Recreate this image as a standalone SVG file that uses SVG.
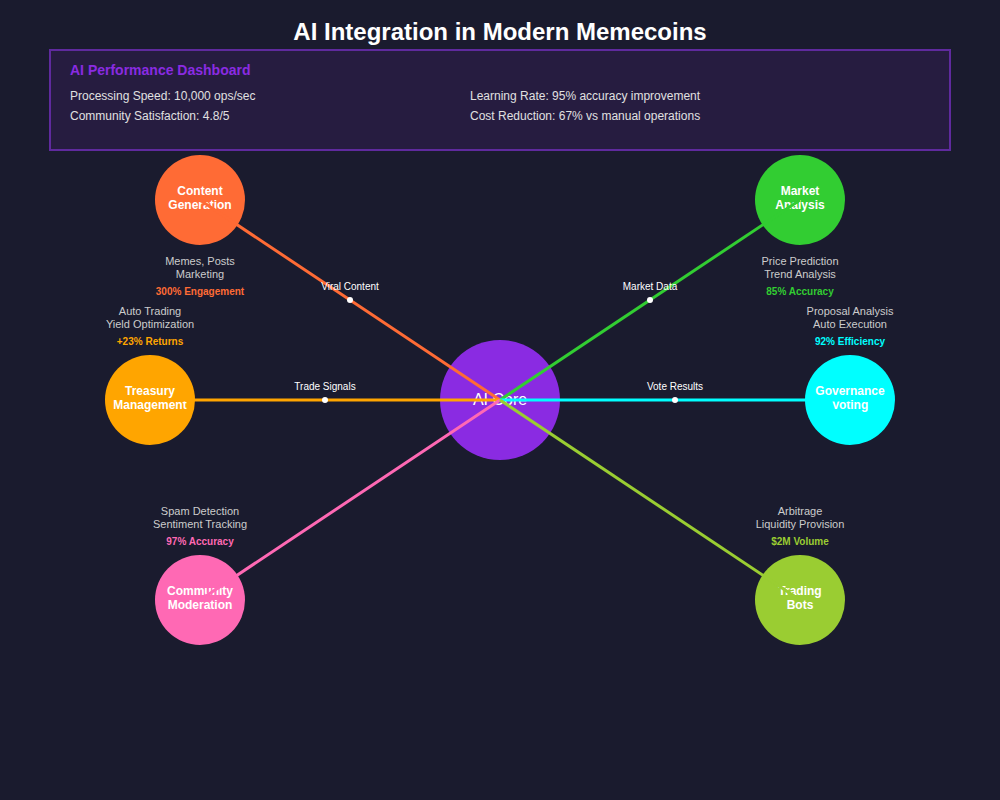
<svg xmlns="http://www.w3.org/2000/svg" width="1000" height="800" viewBox="0 0 1000 800">
<style>
text{font-family:"Liberation Sans",Arial,sans-serif}
.title{font-size:24px;font-weight:bold;fill:#ffffff;text-anchor:middle}
.dash-title{font-size:14px;font-weight:bold;fill:#8a2be2}
.stat{font-size:12px;fill:#e0e0e0}
.lbl{font-size:12px;font-weight:bold;fill:#ffffff;text-anchor:middle}
.core{font-size:16px;fill:#ffffff;text-anchor:middle}
.desc{font-size:11px;fill:#cccccc;text-anchor:middle}
.metric{font-size:10px;font-weight:bold;text-anchor:middle}
.clbl{font-size:10px;fill:#ffffff;text-anchor:middle}
.conn{stroke-width:3;fill:none}
.dot{fill:#ffffff}
</style>
<rect width="1000" height="800" fill="#1a1b2e"/>
<text class="title" x="500" y="40">AI Integration in Modern Memecoins</text>
<g id="dashboard">
<rect x="50" y="50" width="900" height="100" fill="#261c40" stroke="#5f2a9e" stroke-width="2"/>
<text class="dash-title" x="70" y="75">AI Performance Dashboard</text>
<text class="stat" x="70" y="100">Processing Speed: 10,000 ops/sec</text>
<text class="stat" x="70" y="120">Community Satisfaction: 4.8/5</text>
<text class="stat" x="470" y="100">Learning Rate: 95% accuracy improvement</text>
<text class="stat" x="470" y="120">Cost Reduction: 67% vs manual operations</text>
</g>
<g id="ai-core">
<circle cx="500" cy="400" r="60" fill="#8a2be2"/>
<text class="core" x="500" y="405">AI Core</text>
</g>
<g id="content-generation">
<circle cx="200" cy="200" r="45" fill="#ff6b35"/>
<text class="lbl" x="200" y="195">Content</text>
<text class="lbl" x="200" y="209">Generation</text>
<text class="desc" x="200" y="265">Memes, Posts</text>
<text class="desc" x="200" y="278">Marketing</text>
<text class="metric" x="200" y="295" fill="#ff6b35">300% Engagement</text>
</g>
<g id="market-analysis">
<circle cx="800" cy="200" r="45" fill="#32cd32"/>
<text class="lbl" x="800" y="195">Market</text>
<text class="lbl" x="800" y="209">Analysis</text>
<text class="desc" x="800" y="265">Price Prediction</text>
<text class="desc" x="800" y="278">Trend Analysis</text>
<text class="metric" x="800" y="295" fill="#32cd32">85% Accuracy</text>
</g>
<g id="treasury-management">
<circle cx="150" cy="400" r="45" fill="#ffa500"/>
<text class="lbl" x="150" y="395">Treasury</text>
<text class="lbl" x="150" y="409">Management</text>
<text class="desc" x="150" y="315">Auto Trading</text>
<text class="desc" x="150" y="328">Yield Optimization</text>
<text class="metric" x="150" y="345" fill="#ffa500">+23% Returns</text>
</g>
<g id="governance-voting">
<circle cx="850" cy="400" r="45" fill="#00ffff"/>
<text class="lbl" x="850" y="395">Governance</text>
<text class="lbl" x="850" y="409">Voting</text>
<text class="desc" x="850" y="315">Proposal Analysis</text>
<text class="desc" x="850" y="328">Auto Execution</text>
<text class="metric" x="850" y="345" fill="#00ffff">92% Efficiency</text>
</g>
<g id="community-moderation">
<circle cx="200" cy="600" r="45" fill="#ff69b4"/>
<text class="lbl" x="200" y="595">Community</text>
<text class="lbl" x="200" y="609">Moderation</text>
<text class="desc" x="200" y="515">Spam Detection</text>
<text class="desc" x="200" y="528">Sentiment Tracking</text>
<text class="metric" x="200" y="545" fill="#ff69b4">97% Accuracy</text>
</g>
<g id="trading-bots">
<circle cx="800" cy="600" r="45" fill="#9acd32"/>
<text class="lbl" x="800" y="595">Trading</text>
<text class="lbl" x="800" y="609">Bots</text>
<text class="desc" x="800" y="515">Arbitrage</text>
<text class="desc" x="800" y="528">Liquidity Provision</text>
<text class="metric" x="800" y="545" fill="#9acd32">$2M Volume</text>
</g>
<g id="connectors">
<line class="conn" x1="500" y1="400" x2="200" y2="200" stroke="#ff6b35"/>
<line class="conn" x1="500" y1="400" x2="800" y2="200" stroke="#32cd32"/>
<line class="conn" x1="500" y1="400" x2="150" y2="400" stroke="#ffa500"/>
<line class="conn" x1="500" y1="400" x2="850" y2="400" stroke="#00ffff"/>
<line class="conn" x1="500" y1="400" x2="200" y2="600" stroke="#ff69b4"/>
<line class="conn" x1="500" y1="400" x2="800" y2="600" stroke="#9acd32"/>
<circle class="dot" cx="350" cy="300" r="3"/>
<text class="clbl" x="350" y="290">Viral Content</text>
<circle class="dot" cx="650" cy="300" r="3"/>
<text class="clbl" x="650" y="290">Market Data</text>
<circle class="dot" cx="325" cy="400" r="3"/>
<text class="clbl" x="325" y="390">Trade Signals</text>
<circle class="dot" cx="675" cy="400" r="3"/>
<text class="clbl" x="675" y="390">Vote Results</text>
</g>
</svg>
